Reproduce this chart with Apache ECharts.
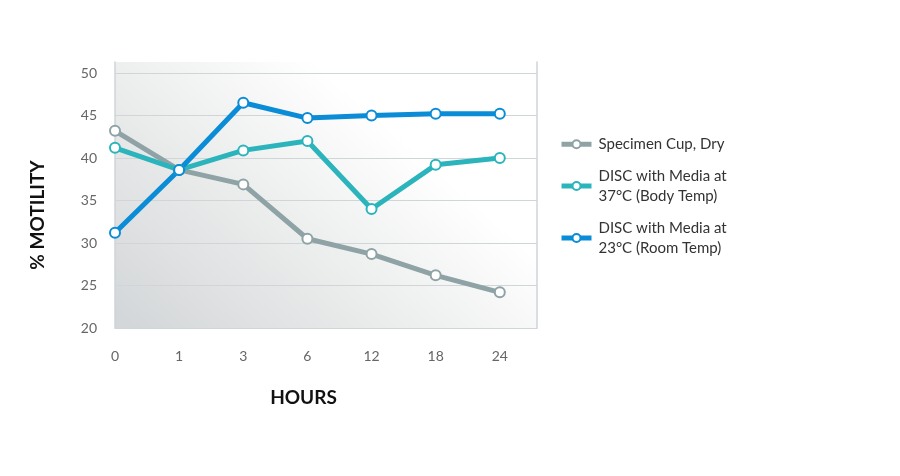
<!DOCTYPE html>
<html>
<head>
<meta charset="utf-8">
<script src="https://cdn.jsdelivr.net/npm/echarts@6/dist/echarts.min.js"></script>
<style>html,body{margin:0;padding:0;background:#fff}#c{width:900px;height:476px}</style>
</head>
<body>
<div id="c"></div>
<script>
var categories = ['0', '1', '3', '6', '12', '18', '24'];
var seriesNames = ['Specimen Cup, Dry', 'DISC with Media at\n37°C (Body Temp)', 'DISC with Media at\n23°C (Room Temp)'];
var specimenCup = [43.2, 38.6, 36.9, 30.5, 28.7, 26.2, 24.2];
var disc37 = [41.2, 38.6, 40.9, 42.0, 34.0, 39.2, 40.0];
var disc23 = [31.2, 38.6, 46.5, 44.7, 45.0, 45.2, 45.2];
var yTicks = [20, 25, 30, 35, 40, 45, 50];

var colors = ['#8fa3a6', '#2bb4bb', '#0a8cd6'];
var font = 'Lato, "Open Sans", sans-serif';

function toPairs(arr) { return arr.map(function (v, i) { return [i, v]; }); }

var chart = echarts.init(document.getElementById('c'));
function mk(name, data, color) {
  return {
    name: name, type: 'line', data: toPairs(data),
    symbol: 'circle', symbolSize: 10,
    lineStyle: { width: 5, color: color },
    itemStyle: { color: '#fff', borderColor: color, borderWidth: 2 },
    z: 3
  };
}
chart.setOption({
  animation: false,
  color: colors,
  grid: {
    left: 115, right: 363, top: 62, bottom: 148,
    show: true, borderWidth: 0,
    backgroundColor: new echarts.graphic.LinearGradient(0.05, 1, 0.6, 0, [
      { offset: 0, color: '#d4d7d9' },
      { offset: 0.5, color: '#eceded' },
      { offset: 0.9, color: '#ffffff' },
      { offset: 1, color: '#ffffff' }
    ])
  },
  legend: {
    orient: 'vertical', left: 554, top: 129, itemGap: 11,
    itemWidth: 30, itemHeight: 10,
    data: seriesNames,
    lineStyle: { width: 5 },
    textStyle: { fontFamily: font, fontSize: 15, color: '#333', lineHeight: 20.5, padding: [0, 0, 0, 2] }
  },
  xAxis: {
    type: 'value', min: 0, max: 6.58, interval: 1,
    name: 'HOURS', nameLocation: 'middle', nameGap: 60,
    nameTextStyle: { fontFamily: font, fontWeight: 'bold', fontSize: 19, color: '#111', padding: [0, 45, 0, 0] },
    axisLine: { show: true, onZero: false, lineStyle: { color: '#d0d6d8', width: 1 } },
    axisTick: { show: false },
    splitLine: { show: false },
    axisLabel: {
      margin: 21, fontFamily: font, fontSize: 14, color: '#666',
      showMaxLabel: false,
      formatter: function (v) { return Number.isInteger(v) && categories[v] !== undefined ? categories[v] : ''; }
    }
  },
  yAxis: [{
    type: 'value', min: 20, max: 51.3, interval: 5,
    name: '% MOTILITY', nameLocation: 'middle', nameGap: 68, nameRotate: 90,
    nameTextStyle: { fontFamily: font, fontWeight: 'bold', fontSize: 19, color: '#111', padding: [0, 40, 0, 0] },
    axisLine: { show: true, lineStyle: { color: '#cdd5d8', width: 1.5 } },
    axisTick: { show: false },
    splitLine: { show: true, showMaxLine: false, lineStyle: { color: '#d0d6d8', width: 1.2 } },
    axisLabel: {
      margin: 18, fontFamily: font, fontSize: 14, color: '#666',
      showMaxLabel: false,
      formatter: function (v) { return yTicks.indexOf(v) >= 0 ? String(v) : ''; }
    }
  }, {
    type: 'value', min: 20, max: 51.3, position: 'right',
    axisLine: { show: true, lineStyle: { color: '#cdd5d8', width: 1.5 } },
    axisTick: { show: false }, axisLabel: { show: false }, splitLine: { show: false }
  }],
  series: [
    mk(seriesNames[0], specimenCup, colors[0]),
    mk(seriesNames[1], disc37, colors[1]),
    mk(seriesNames[2], disc23, colors[2])
  ]
});
</script>
</body>
</html>
